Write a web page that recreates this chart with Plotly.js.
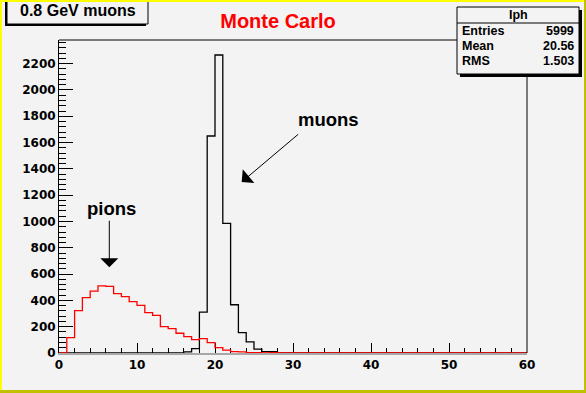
<!DOCTYPE html>
<html>
<head>
<meta charset="utf-8">
<script src="https://cdn.plot.ly/plotly-3.0.1.min.js"></script>
<style>
  html, body { margin: 0; padding: 0; background: #f3f3f3; }
  #wrap { position: relative; width: 586px; height: 393px; overflow: hidden; }
  #chart { position: absolute; left: 0; top: 0; width: 586px; height: 393px; }
  .bd { position: absolute; }
</style>
</head>
<body>
<div id="wrap">
  <div id="chart"></div>
  <div class="bd" style="left:0;top:0;width:586px;height:2px;background:#ffff00"></div>
  <div class="bd" style="left:0;top:0;width:2px;height:393px;background:#ffff00"></div>
  <div class="bd" style="left:584px;top:0;width:2px;height:393px;background:#c0c000"></div>
  <div class="bd" style="left:0;top:390px;width:586px;height:3px;background:#c0c000"></div>
</div>
<script>
// ---- data (bin width 1, bins 0..59) ----
const binEdgesStart = 0;
const binWidth = 1;
const pionCounts = [
  0, 117, 322, 421, 471, 511, 506, 451, 428, 390,
  362, 307, 286, 200, 185, 150, 125, 102, 109, 79,
  41, 22, 10, 8, 3, 2, 1, 2, 0, 0,
  0, 0, 0, 0, 0, 0, 0, 0, 0, 0,
  0, 0, 0, 0, 0, 0, 0, 0, 0, 0,
  0, 0, 0, 0, 0, 0, 0, 0, 0, 0
];
const muonCounts = [
  0, 0, 0, 0, 0, 0, 0, 0, 0, 0,
  0, 0, 0, 0, 0, 0, 8, 33, 311, 1650,
  2266, 985, 367, 155, 85, 30, 10, 10, 0, 0,
  0, 0, 0, 0, 0, 0, 0, 0, 0, 0,
  0, 0, 0, 0, 0, 0, 0, 0, 0, 0,
  0, 0, 0, 0, 0, 0, 0, 0, 0, 0
];
const xTickVals = [0, 10, 20, 30, 40, 50, 60];
const yTickVals = [0, 200, 400, 600, 800, 1000, 1200, 1400, 1600, 1800, 2000, 2200];
const statsTitle = "Iph";
const statsLabels = ["Entries", "Mean", "RMS"];
const statsValues = ["5999", "20.56", "1.503"];
const padTitle = "0.8 GeV muons";
const chartTitle = "Monte Carlo";

// step outline from bin contents
function stepXY(counts) {
  const x = [], y = [];
  for (let i = 0; i < counts.length; i++) { x.push(binEdgesStart + i * binWidth); y.push(counts[i]); }
  x.push(binEdgesStart + counts.length * binWidth); y.push(counts[counts.length - 1]);
  return {x, y};
}
const m = stepXY(muonCounts), p = stepXY(pionCounts);

// pixel -> paper helpers (plot area: x 59..527, y 40..353)
const L = 59, R = 527, T = 40, B = 353;
const px = v => (v - L) / (R - L);
const py = v => (B - v) / (B - T);

const axFont = {family: 'DejaVu Sans', size: 12, color: '#000', weight: 'bold'};
const statFont = {family: 'Liberation Sans', size: 12.5, color: '#000', weight: 'bold'};

const traces = [
  {x: m.x, y: m.y, type: 'scatter', mode: 'lines', line: {shape: 'hv', color: '#000000', width: 1.3}, hoverinfo: 'skip', cliponaxis: false},
  {x: p.x, y: p.y, type: 'scatter', mode: 'lines', line: {shape: 'hv', color: '#ff0000', width: 1.3}, hoverinfo: 'skip', cliponaxis: false}
];

const shapes = [
  // frame top & right
  {type: 'line', xref: 'paper', yref: 'paper', x0: 0, x1: 1, y0: 1, y1: 1, line: {color: '#000', width: 1}},
  {type: 'line', xref: 'paper', yref: 'paper', x0: 1, x1: 1, y0: 0, y1: 1, line: {color: '#000', width: 1}},
  // stats box shadow + box
  {type: 'rect', xref: 'paper', yref: 'paper', x0: px(460), x1: px(582), y0: py(10), y1: py(77), fillcolor: '#000', line: {width: 0}},
  {type: 'rect', xref: 'paper', yref: 'paper', x0: px(457), x1: px(579), y0: py(7), y1: py(74), fillcolor: '#f3f3f3', line: {color: '#000', width: 1}},
  {type: 'line', xref: 'paper', yref: 'paper', x0: px(457), x1: px(579), y0: py(23), y1: py(23), line: {color: '#000', width: 1}},
  // pad title box shadow + box
  {type: 'rect', xref: 'paper', yref: 'paper', x0: px(5), x1: px(146), y0: py(-5), y1: py(26), fillcolor: '#000', line: {width: 0}},
  {type: 'rect', xref: 'paper', yref: 'paper', x0: px(7), x1: px(148), y0: py(-5), y1: py(24), fillcolor: '#f3f3f3', line: {color: '#000', width: 1}}
];

const annotations = [
  {xref: 'paper', yref: 'paper', x: px(77.5), y: py(10.5), text: padTitle, showarrow: false, xanchor: 'center', yanchor: 'middle',
   font: {family: 'Liberation Sans', size: 16, color: '#000', weight: 'bold'}},
  {xref: 'paper', yref: 'paper', x: px(518), y: py(15), text: statsTitle, showarrow: false, xanchor: 'center', yanchor: 'middle', font: statFont},
  // pion/muon labels
  {xref: 'paper', yref: 'paper', x: px(111), y: py(208.6), text: 'pions', showarrow: false, xanchor: 'center', yanchor: 'middle',
   font: {family: 'Liberation Sans', size: 18.5, color: '#000', weight: 'bold'}},
  {xref: 'paper', yref: 'paper', x: px(328), y: py(119.6), text: 'muons', showarrow: false, xanchor: 'center', yanchor: 'middle',
   font: {family: 'Liberation Sans', size: 18.5, color: '#000', weight: 'bold'}},
  // arrows
  {xref: 'x', yref: 'y', x: 6.45, y: 652, ax: 0, ay: -48, text: '', showarrow: true, arrowhead: 1, arrowsize: 3, arrowwidth: 1, arrowcolor: '#000'},
  {xref: 'x', yref: 'y', x: 23.42, y: 1300, ax: 58, ay: -49, text: '', showarrow: true, arrowhead: 1, arrowsize: 3, arrowwidth: 1, arrowcolor: '#000'}
];
const rowY = [31, 46, 61];
statsLabels.forEach((lab, i) => {
  annotations.push({xref: 'paper', yref: 'paper', x: px(460), y: py(rowY[i]), text: lab, showarrow: false, xanchor: 'left', yanchor: 'middle', font: statFont});
  annotations.push({xref: 'paper', yref: 'paper', x: px(576), y: py(rowY[i]), text: statsValues[i], showarrow: false, xanchor: 'right', yanchor: 'middle', font: statFont});
});

const layout = {
  width: 586, height: 393,
  margin: {l: L, r: 586 - R, t: T, b: 393 - B, pad: 0},
  paper_bgcolor: '#f3f3f3', plot_bgcolor: '#f3f3f3',
  showlegend: false,
  title: {text: chartTitle, xref: 'container', yref: 'container', x: 278 / 586, y: 1 - 21 / 393, xanchor: 'center', yanchor: 'middle',
          font: {family: 'Liberation Sans', size: 20, color: '#ff0000', weight: 'bold'}},
  xaxis: {range: [0, 60], tickmode: 'array', tickvals: xTickVals, ticktext: xTickVals.map(String),
          ticks: 'inside', ticklen: 10, tickwidth: 1, tickcolor: '#000',
          minor: {dtick: 2, tick0: 0, ticks: 'inside', ticklen: 5, tickwidth: 1, tickcolor: '#000', showgrid: false},
          showline: true, linecolor: '#a8a8a8', linewidth: 2, showgrid: false, zeroline: false,
          tickfont: axFont, layer: 'below traces', fixedrange: true},
  yaxis: {range: [0, 2380], tickmode: 'array', tickvals: yTickVals, ticktext: yTickVals.map(String),
          ticks: 'inside', ticklen: 14, tickwidth: 1, tickcolor: '#000',
          minor: {dtick: 40, tick0: 0, ticks: 'inside', ticklen: 7, tickwidth: 1, tickcolor: '#000', showgrid: false},
          showline: true, linecolor: '#000', linewidth: 1, showgrid: false, zeroline: false,
          tickfont: axFont, layer: 'below traces', fixedrange: true},
  shapes: shapes,
  annotations: annotations
};

Plotly.newPlot('chart', traces, layout, {staticPlot: true, displayModeBar: false});
</script>
</body>
</html>
